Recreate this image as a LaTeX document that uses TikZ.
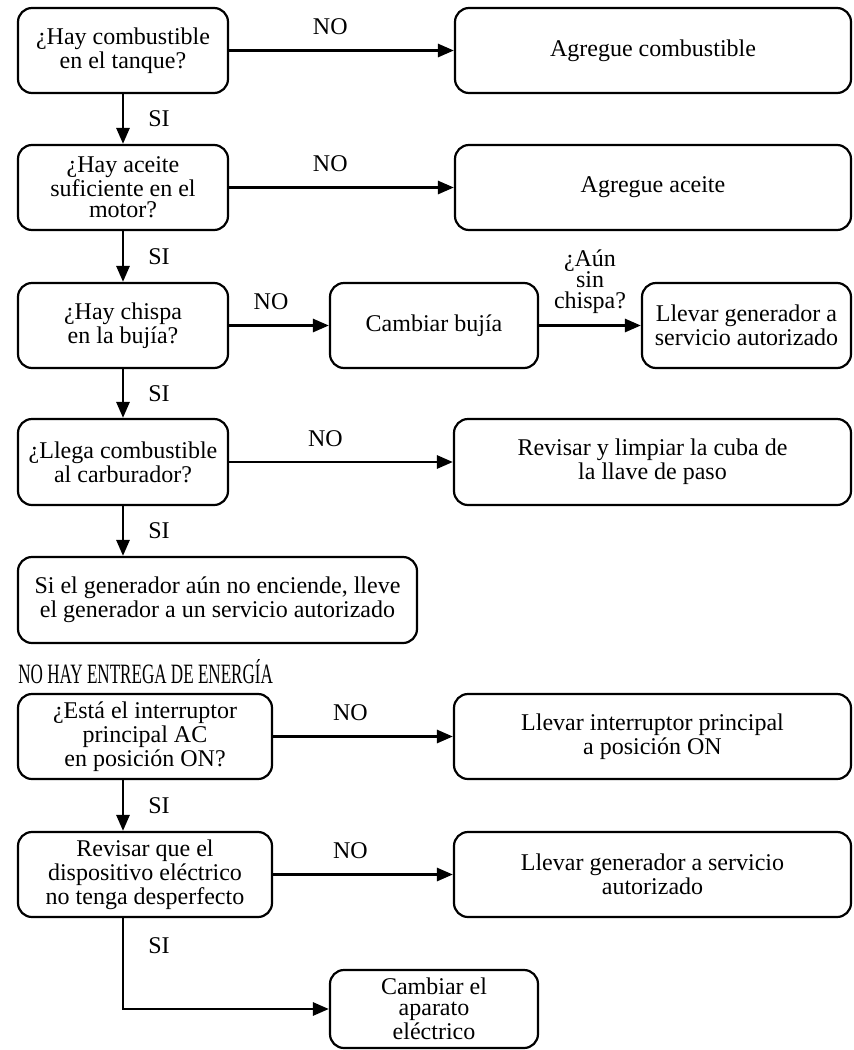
\documentclass[tikz,border=0pt]{standalone}
\usepackage{fontspec}
\setmainfont{Liberation Serif}
\usepackage{graphicx}
\usetikzlibrary{arrows.meta, positioning}

\tikzset{
  caja/.style={draw, rounded corners=7pt, line width=1.1pt, align=center,
    minimum height=42.5pt, inner sep=2pt, font=\fontsize{12}{10.5}\selectfont},
  flecha/.style={-{Triangle[length=8pt,width=6.5pt]}, line width=1.4pt},
  etiq/.style={font=\fontsize{12}{10.5}\selectfont, inner sep=1pt}
}

\begin{document}
\begin{tikzpicture}[x=0.5pt, y=-0.5pt]
\useasboundingbox (0,0) rectangle (854,1050);
% el motor no arranca
\node[caja, minimum width=105pt] (comb) at (123,50.5) {¿Hay combustible\\en el tanque?};
\node[caja, minimum width=198pt] (agcomb) at (653,50.5) {Agregue combustible};
\node[caja, minimum width=105pt] (aceite) at (123,187.5) {¿Hay aceite\\suficiente en el\\motor?};
\node[caja, minimum width=198pt] (agaceite) at (653,187.5) {Agregue aceite};
\node[caja, minimum width=105pt] (chispa) at (123,325.5) {¿Hay chispa\\en la bujía?};
\node[caja, minimum width=104pt] (bujia) at (434,325.5) {Cambiar bujía};
\node[caja, minimum width=104.5pt] (serv) at (746.5,325.5) {Llevar generador a\\servicio autorizado};
\node[caja, minimum width=105pt, minimum height=43pt] (carb) at (123,462) {¿Llega combustible\\al carburador?};
\node[caja, minimum width=198.5pt, minimum height=43pt] (cuba) at (652.5,462) {Revisar y limpiar la cuba de\\la llave de paso};
\node[caja, minimum width=199.5pt, minimum height=43pt] (gen) at (217.5,600) {Si el generador aún no enciende, lleve\\el generador a un servicio autorizado};

\draw[flecha] (comb) -- node[etiq, above=6pt, pos=0.45]{NO} (agcomb);
\draw[flecha] (comb) -- node[etiq, right=11pt]{SI} (aceite);
\draw[flecha] (aceite) -- node[etiq, above=6pt, pos=0.45]{NO} (agaceite);
\draw[flecha] (aceite) -- node[etiq, right=11pt]{SI} (chispa);
\draw[flecha] (chispa) -- node[etiq, above=6pt, pos=0.42]{NO} (bujia);
\draw[flecha] (bujia) -- node[etiq, above=4pt, align=center, font=\fontsize{12}{10.5}\selectfont]{¿Aún\\sin\\chispa?} (serv);
\draw[flecha] (chispa) -- node[etiq, right=11pt]{SI} (carb);
\draw[flecha] (carb) -- node[etiq, above=6pt, pos=0.43]{NO} (cuba);
\draw[flecha] (carb) -- node[etiq, right=11pt]{SI} (carb |- gen.north);

% no hay entrega de energia
\node[anchor=base west, inner sep=0pt] (titulo) at (18,683)
  {\scalebox{0.61}[1]{\fontsize{14}{14}\selectfont NO HAY ENTREGA DE ENERGÍA}};
\node[caja, minimum width=127pt] (interr) at (145,736.5) {¿Está el interruptor\\principal AC\\en posición ON?};
\node[caja, minimum width=198.5pt] (llevint) at (652.5,736.5) {Llevar interruptor principal\\a posición ON};
\node[caja, minimum width=127pt] (disp) at (145,874.5) {Revisar que el\\dispositivo eléctrico\\no tenga desperfecto};
\node[caja, minimum width=198.5pt] (llevgen) at (652.5,874.5) {Llevar generador a servicio\\autorizado};
\node[caja, minimum width=104pt, minimum height=39pt] (aparato) at (434,1009) {Cambiar el\\aparato\\eléctrico};

\draw[flecha] (interr) -- node[etiq, above=6pt, pos=0.43]{NO} (llevint);
\draw[flecha] ([xshift=-11pt]interr.south) -- node[etiq, right=11pt]{SI} ([xshift=-11pt]disp.north);
\draw[flecha] (disp) -- node[etiq, above=6pt, pos=0.43]{NO} (llevgen);
\draw[flecha] ([xshift=-11pt]disp.south) |- node[etiq, right=11pt, pos=0.15]{SI} (aparato.west);
\end{tikzpicture}
\end{document}
